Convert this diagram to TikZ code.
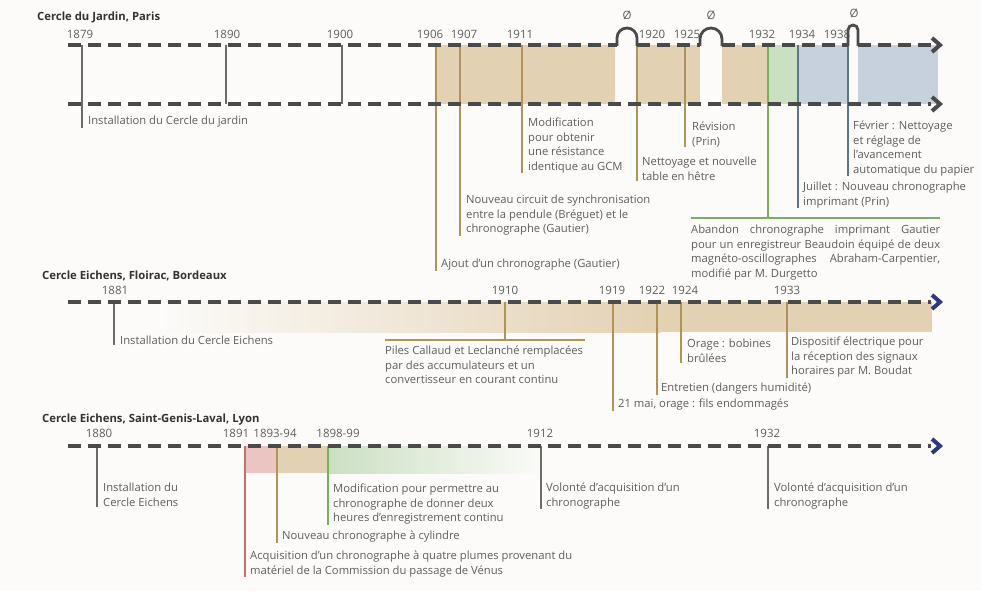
\documentclass[tikz,border=0pt]{standalone}
\usepackage{fontspec}
\setmainfont{Open Sans}
\definecolor{bg}{HTML}{FCFBF9}
\definecolor{dashc}{HTML}{4A4A4A}
\definecolor{navy}{HTML}{2E3A7C}
\definecolor{tanL}{HTML}{B1935A}
\definecolor{tanB}{HTML}{E3D1B3}
\definecolor{greenL}{HTML}{79AE5E}
\definecolor{greenB}{HTML}{CBDFC3}
\definecolor{blueL}{HTML}{5B7490}
\definecolor{blueB}{HTML}{C7D1DE}
\definecolor{redL}{HTML}{C2716A}
\definecolor{redB}{HTML}{EBC5C1}
\definecolor{grayL}{HTML}{6B6B6B}
\definecolor{txt}{HTML}{5E5E5E}
\definecolor{ttlc}{HTML}{333333}
\tikzset{
  evt/.style={anchor=north west, inner sep=0pt, align=left, font=\fontsize{11.25}{14.5}\selectfont, text=txt},
  yr/.style={font=\fontsize{11.5}{13}\selectfont, text=txt, inner sep=0pt},
  ttl/.style={font=\bfseries\fontsize{11.3}{13}\selectfont, anchor=west, text=ttlc, inner sep=0pt},
  tl/.style={line width=4.5pt, dash pattern=on 13pt off 7pt, draw=dashc},
  ev/.style={line width=2pt},
  hop/.style={line width=2.8pt, draw=dashc},
  chev/.style={line width=4pt, line join=miter, line cap=butt},
}
\begin{document}
\begin{tikzpicture}[x=1pt,y=-1pt]
\useasboundingbox (0,0) rectangle (981,591);
\fill[bg] (0,0) rectangle (981,591);

% ================= Paris =================
\node[ttl] (tP) at (37,17) {Cercle du Jardin, Paris};
% bands
\fill[tanB] (436,45) rectangle (615,104);
\fill[tanB] (637,45) rectangle (700,104);
\fill[tanB] (722,45) rectangle (768,104);
\fill[greenB] (768,45) rectangle (798,104);
\fill[blueB] (798,45) rectangle (848,104);
\fill[blueB] (858,45) rectangle (938,104);

% year coordinates
\foreach \n/\x in {1879/82,1890/226,1900/342,1906/436,1907/460,1911/522,1920/637,1925/685,1932/768,1934/798,1938/848}
  \coordinate (p\n) at (\x,45);
\coordinate (q1890) at (226,104);
\coordinate (q1900) at (342,104);

% year labels
\foreach \n/\x in {1879/80,1890/227,1900/340,1906/430,1907/464,1911/520,1920/652,1925/687,1932/762,1934/802,1938/837}
  \node[yr] (yP\n) at (\x,34) {\n};

% event texts
\node[evt] (e1879) at (88,116) {Installation du Cercle du jardin};
\node[evt] (e1906) at (441,259) {Ajout d'un chronographe (Gautier)};
\node[evt] (e1907) at (466,195) {Nouveau circuit de synchronisation\\entre la pendule (Bréguet) et le\\chronographe (Gautier)};
\node[evt] (e1911) at (528,118) {Modification\\pour obtenir\\une résistance\\identique au GCM};
\node[evt] (e1920) at (642,157) {Nettoyage et nouvelle\\table en hêtre};
\node[evt] (e1925) at (692,122) {Révision\\(Prin)};
\node[evt] (e1934) at (803,182) {Juillet : Nouveau chronographe\\imprimant (Prin)};
\node[evt] (e1938) at (853,121) {Février : Nettoyage\\et réglage de\\l'avancement\\automatique du papier};
\node[evt, text width=249pt, align=justify] (e1932) at (691,225) {Abandon chronographe imprimant Gautier\linebreak pour un enregistreur Beaudoin équipé de deux\linebreak magnéto-oscillographes Abraham-Carpentier,\linebreak modifié par M. Durgetto};
\coordinate (barL) at (691,218);
\coordinate (barR) at (940,218);

% event lines
\draw[ev, grayL] (p1879) -- (p1879 |- e1879.south);
\draw[ev, grayL] (p1890) -- (q1890);
\draw[ev, grayL] (p1900) -- (q1900);
\draw[ev, tanL] (p1906) -- (p1906 |- e1906.south);
\draw[ev, tanL] (p1907) -- (p1907 |- e1907.south);
\draw[ev, tanL] (p1911) -- (p1911 |- e1911.south);
\draw[ev, tanL] (p1920) -- (p1920 |- e1920.south);
\draw[ev, tanL] (p1925) -- (p1925 |- e1925.south);
\draw[ev, greenL] (p1932) -- (p1932 |- barL);
\draw[ev, greenL] (barL) -- (barR);
\draw[ev, blueL] (p1934) -- (p1934 |- e1934.south);
\draw[ev, blueL] (p1938) -- (p1938 |- e1938.south);

% timelines
\draw[tl] (68,45) -- (617,45);
\draw[tl] (637,45) -- (700,45);
\draw[tl] (722,45) -- (848,45);
\draw[tl] (858,45) -- (931,45);
\draw[tl] (68,104) -- (931,104);
\draw[hop] (617,46) -- (617,38) arc (180:360:10) -- (637,46);
\draw[hop] (700,46) -- (700,39) arc (180:360:11) -- (722,46);
\draw[hop] (848,46) -- (848,30) arc (180:360:5) -- (858,46);
\node[yr] (z1) at (627,15) {Ø};
\node[yr] (z2) at (711,15) {Ø};
\node[yr] (z3) at (854,13) {Ø};
\draw[chev, dashc] (932,38) -- (940,45) -- (932,52);
\draw[chev, dashc] (932,97) -- (940,104) -- (932,111);

% ================= Bordeaux =================
\node[ttl] (tB) at (42,276) {Cercle Eichens, Floirac, Bordeaux};
\fill[left color=bg, right color=tanB] (160,302) rectangle (660,332);
\fill[tanB] (659.5,302) rectangle (932,332);
\foreach \n/\x in {1881/114,1910/505,1919/613,1922/657,1924/681,1933/787}
  \coordinate (b\n) at (\x,302);
\foreach \n/\x in {1881/115,1910/505,1919/612,1922/652,1924/685,1933/787}
  \node[yr] (yB\n) at (\x,290) {\n};
\node[evt] (f1881) at (120,336) {Installation du Cercle Eichens};
\coordinate (bar2L) at (385,340);
\coordinate (bar2R) at (585,340);
\node[evt] (f1910) at (385,346) {Piles Callaud et Leclanché remplacées\\par des accumulateurs et un\\convertisseur en courant continu};
\node[evt] (f1919) at (618,399) {21 mai, orage : fils endommagés};
\node[evt] (f1922) at (661,383) {Entretien (dangers humidité)};
\node[evt] (f1924) at (687,339) {Orage : bobines\\brûlées};
\node[evt] (f1933) at (791,337) {Dispositif électrique pour\\la réception des signaux\\horaires par M. Boudat};
\draw[ev, grayL] (b1881) -- (b1881 |- f1881.south);
\draw[ev, tanL] (b1910) -- (b1910 |- bar2L);
\draw[ev, tanL] (bar2L) -- (bar2R);
\draw[ev, tanL] (b1919) -- (b1919 |- f1919.south);
\draw[ev, tanL] (b1922) -- (b1922 |- f1922.south);
\draw[ev, tanL] (b1924) -- (b1924 |- f1924.south);
\draw[ev, tanL] (b1933) -- (b1933 |- f1933.south);
\draw[tl] (68,302) -- (931,302);
\draw[chev, navy] (932,295) -- (940,302) -- (932,309);

% ================= Lyon =================
\node[ttl] (tL) at (42,420) {Cercle Eichens, Saint-Genis-Laval, Lyon};
\fill[redB] (245,446) rectangle (277,473);
\fill[tanB] (277,446) rectangle (328,473);
\fill[left color=greenB, right color=bg] (328,446) rectangle (545,473);
\foreach \n/\x in {1880/97,1891/245,1893/277,1898/328,1912/541,1932/768}
  \coordinate (l\n) at (\x,446);
\node[yr] (yL1880) at (99,433) {1880};
\node[yr] (yL1891) at (236,433) {1891};
\node[yr] (yL1893) at (275,433) {1893-94};
\node[yr] (yL1898) at (338,433) {1898-99};
\node[yr] (yL1912) at (540,433) {1912};
\node[yr] (yL1932) at (767,433) {1932};
\node[evt] (g1880) at (103,483) {Installation du\\Cercle Eichens};
\node[evt] (g1891) at (250,551) {Acquisition d'un chronographe à quatre plumes provenant du\\matériel de la Commission du passage de Vénus};
\node[evt] (g1893) at (282,531) {Nouveau chronographe à cylindre};
\node[evt] (g1898) at (333,484) {Modification pour permettre au\\chronographe de donner deux\\heures d'enregistrement continu};
\node[evt] (g1912) at (546,483) {Volonté d'acquisition d'un\\chronographe};
\node[evt] (g1932) at (774,483) {Volonté d'acquisition d'un\\chronographe};
\draw[ev, grayL] (l1880) -- (l1880 |- g1880.south);
\draw[ev, redL] (l1891) -- (l1891 |- g1891.south);
\draw[ev, tanL] (l1893) -- (l1893 |- g1893.south);
\draw[ev, greenL] (l1898) -- (l1898 |- g1898.south);
\draw[ev, grayL] (l1912) -- (l1912 |- g1912.south);
\draw[ev, grayL] (l1932) -- (l1932 |- g1932.south);
\draw[tl] (68,446) -- (931,446);
\draw[chev, navy] (932,439) -- (940,446) -- (932,453);
\end{tikzpicture}
\end{document}
